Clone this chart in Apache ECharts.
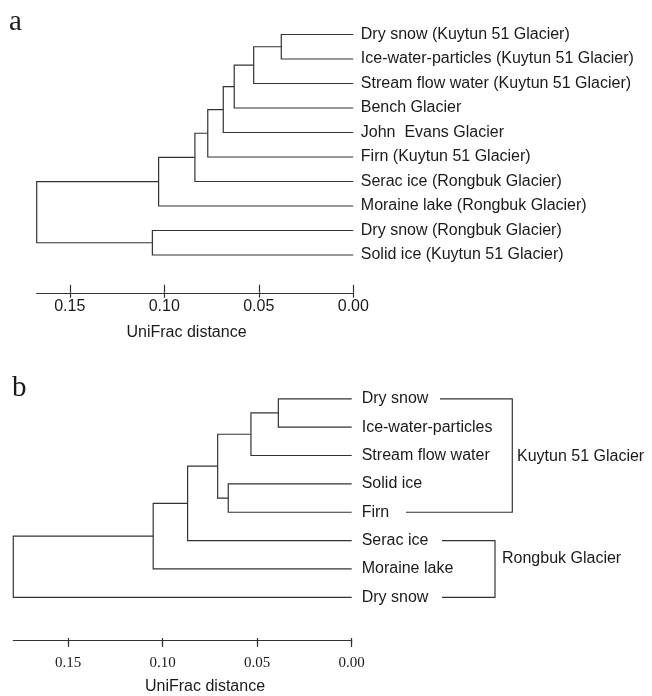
<!DOCTYPE html>
<html>
<head>
<meta charset="utf-8">
<script src="https://cdn.jsdelivr.net/npm/echarts@6/dist/echarts.min.js"></script>
<style>
  html, body { margin: 0; background: #fff; }
  #chart { width: 652px; height: 696px; }
</style>
</head>
<body>
<div id="chart"></div>
<script>
// leaves top to bottom, merges as [childA, childB, height]; new clusters get the next index
const leavesA = [
  "Dry snow (Kuytun 51 Glacier)",
  "Ice-water-particles (Kuytun 51 Glacier)",
  "Stream flow water (Kuytun 51 Glacier)",
  "Bench Glacier",
  "John  Evans Glacier",
  "Firn (Kuytun 51 Glacier)",
  "Serac ice (Rongbuk Glacier)",
  "Moraine lake (Rongbuk Glacier)",
  "Dry snow (Rongbuk Glacier)",
  "Solid ice (Kuytun 51 Glacier)"
];
const mergesA = [
  [0, 1, 0.0381],
  [10, 2, 0.0527],
  [11, 3, 0.0630],
  [12, 4, 0.0688],
  [13, 5, 0.0770],
  [14, 6, 0.0838],
  [15, 7, 0.1030],
  [8, 9, 0.1063],
  [16, 17, 0.1675]
];

const leavesB = [
  "Dry snow",
  "Ice-water-particles",
  "Stream flow water",
  "Solid ice",
  "Firn",
  "Serac ice",
  "Moraine lake",
  "Dry snow"
];
const mergesB = [
  [0, 1, 0.0388],
  [8, 2, 0.0533],
  [3, 4, 0.0653],
  [9, 10, 0.0709],
  [11, 5, 0.0868],
  [12, 6, 0.1050],
  [13, 7, 0.1790]
];
const groupsB = [
  ["Kuytun 51 Glacier", 0, 4],
  ["Rongbuk Glacier", 5, 7]
];
const tickValues = [0, 0.05, 0.10, 0.15];

const SANS = '"Liberation Sans", Arial, sans-serif';
const SERIF = '"Liberation Serif", "Times New Roman", serif';
const INK = "#1a1a1a";
const LINE = "#333";

function linkPaths(nLeaves, merges) {
  const nodes = [];
  for (let i = 0; i < nLeaves; i++) nodes.push({ h: 0, y: i });
  const paths = [];
  merges.forEach(function (m) {
    const p = nodes[m[0]], q = nodes[m[1]], h = m[2];
    paths.push({ coords: [[p.h, p.y], [h, p.y], [h, q.y], [q.h, q.y]] });
    nodes.push({ h: h, y: (p.y + q.y) / 2 });
  });
  return paths;
}

// the scale line sits below the grid; a second top-positioned axis pulled down to it
// draws the upper half of the crossing ticks
function xAxisPair(grid, max, gridH, offset, up, down, labelFont, labelSize, labelMargin, nameGap, namePad) {
  return [
    {
      gridIndex: grid, type: "value", inverse: true, min: 0, max: max,
      position: "bottom", offset: offset,
      axisLine: { show: true, onZero: false, lineStyle: { color: LINE, width: 1.2 } },
      axisTick: { show: true, inside: false, length: down, customValues: tickValues,
        lineStyle: { color: LINE, width: 1.2 } },
      axisLabel: { customValues: tickValues, formatter: v => v.toFixed(2), margin: labelMargin,
        fontFamily: labelFont, fontSize: labelSize, color: INK },
      splitLine: { show: false },
      name: "UniFrac distance", nameLocation: "middle", nameGap: nameGap,
      nameTextStyle: { fontFamily: SANS, fontSize: 16, color: INK, padding: namePad }
    },
    {
      gridIndex: grid, type: "value", inverse: true, min: 0, max: max,
      position: "top", offset: -(gridH + offset),
      axisLine: { show: false, onZero: false },
      axisTick: { show: true, inside: false, length: up, customValues: tickValues,
        lineStyle: { color: LINE, width: 1.2 } },
      axisLabel: { show: false },
      splitLine: { show: false }
    }
  ];
}

function yAxisPair(grid, leaves, margin) {
  return [
    { gridIndex: grid, type: "value", inverse: true, min: -0.5, max: leaves.length - 0.5, show: false },
    {
      gridIndex: grid, type: "category", data: leaves, inverse: true, position: "right",
      axisLine: { show: false, onZero: false }, axisTick: { show: false },
      axisLabel: { interval: 0, margin: margin, fontFamily: SANS, fontSize: 16, color: INK }
    }
  ];
}

function treeSeries(xi, yi, leaves, merges) {
  return {
    type: "lines", coordinateSystem: "cartesian2d", polyline: true,
    xAxisIndex: xi, yAxisIndex: yi, clip: false, silent: true,
    lineStyle: { color: LINE, width: 1.2, opacity: 1 },
    data: linkPaths(leaves.length, merges)
  };
}

const gridA = { left: 36.7, width: 316.6, top: 22.25, height: 245 };
const gridB = { left: 13.3, width: 338.4, top: 384.6, height: 230.9 };

const chart = echarts.init(document.getElementById("chart"));
chart.setOption({
  animation: false,
  grid: [gridA, gridB],
  xAxis: []
    .concat(xAxisPair(0, mergesA[mergesA.length - 1][2], gridA.height, 25.5, 8, 5, SANS, 16, 6, 32, [0, 17, 0, 0]))
    .concat(xAxisPair(1, mergesB[mergesB.length - 1][2], gridB.height, 28.5, 6, 7, SERIF, 15, 16, 39, [0, 0, 0, 45])),
  yAxis: [].concat(yAxisPair(0, leavesA, 7.5)).concat(yAxisPair(1, leavesB, 10)),
  series: [
    treeSeries(0, 0, leavesA, mergesA),
    treeSeries(2, 2, leavesB, mergesB)
  ]
});

// panel letters and the group brackets of panel b
const bracketX = [512.3, 495];
const stubStart = [[440, 406], [442, 442]];
const labelX = [517, 502];
const labelShift = [1.5, -10];
const graphics = [
  { type: "text", left: 9, top: 8, style: { text: "a", font: "29px " + SERIF, fill: INK } },
  { type: "text", left: 12, top: 374, style: { text: "b", font: "29px " + SERIF, fill: INK } }
];
groupsB.forEach(function (g, i) {
  const y0 = chart.convertToPixel({ yAxisIndex: 2 }, g[1]);
  const y1 = chart.convertToPixel({ yAxisIndex: 2 }, g[2]);
  graphics.push({
    type: "polyline",
    shape: { points: [[stubStart[i][0], y0], [bracketX[i], y0], [bracketX[i], y1], [stubStart[i][1], y1]] },
    style: { stroke: LINE, lineWidth: 1.2, fill: null }
  });
  graphics.push({
    type: "text", x: labelX[i], y: (y0 + y1) / 2 + labelShift[i],
    style: { text: g[0], font: "16px " + SANS, fill: INK, verticalAlign: "middle" }
  });
});
chart.setOption({ graphic: graphics });
</script>
</body>
</html>
